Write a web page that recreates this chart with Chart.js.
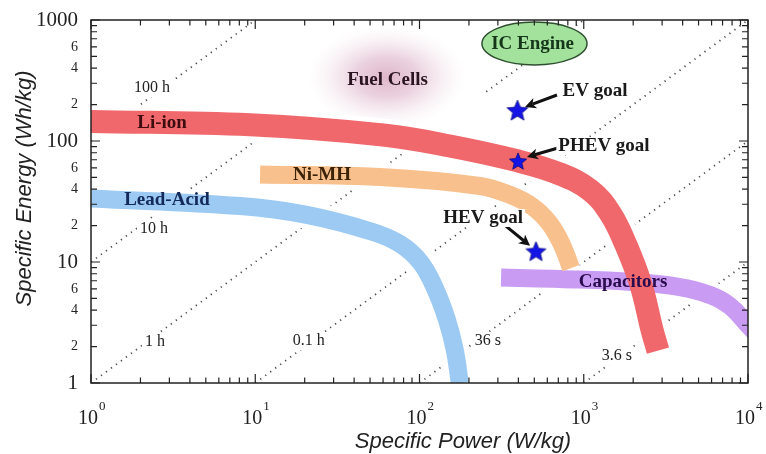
<!DOCTYPE html>
<html>
<head>
<meta charset="utf-8">
<script src="https://cdn.jsdelivr.net/npm/chart.js@4.4.1/dist/chart.umd.min.js"></script>
<style>
  html, body { margin: 0; padding: 0; background: #fff; }
  #wrap { width: 766px; height: 454px; position: relative; }
</style>
</head>
<body>
<div id="wrap"><canvas id="ragone"></canvas></div>
<script>
// Ragone plot, specific energy (Wh/kg) against specific power (W/kg), log-log

// centre lines of the technology bands, [power, energy]
const liIon = [[1, 145], [9.3, 136], [60, 112], [153, 91], [398, 68.4], [716, 53.4], [1090, 39.4],
  [1445, 25.4], [1808, 13.8], [2232, 6.45], [2606, 2.74], [2830, 1.85]];
const niMH = [[10.7, 52.9], [57.5, 50.4], [233, 42.5], [356, 35.8], [491, 28.5], [623, 20.6],
  [738, 13.8], [836, 8.9]];
const leadAcid = [[1, 33.5], [8.1, 29], [20.6, 24.5], [52, 17.7], [76, 14.1], [101, 10],
  [124, 6.1], [147, 3.32], [164, 1.87], [176, 1]];
const capacitors = [[356, 7.4], [716, 7.24], [1995, 6.83], [3855, 6.21], [5872, 5.34],
  [7763, 4.33], [10000, 3.02]];

const bandNames = ["Li-ion", "Ni-MH", "Lead-Acid", "Capacitors"];
const bandLabelPos = [[2.71, 141], [25.5, 52.4], [2.9, 32.5], [1734, 6.83]];

// constant discharge time lines (visible stretches)
const timeLines = [
  [[1, 100], [10, 1000]],
  [[1, 10], [12, 120]],
  [[1, 1], [110, 110]],
  [[255, 255], [1000, 1000]],
  [[10, 1], [10000, 1000]],
  [[100, 1], [10000, 100]],
  [[1000, 1], [10000, 10]],
];
const timeLabels = ["100 h", "10 h", "1 h", "0.1 h", "36 s", "3.6 s"];
const timeLabelPos = [[2.35, 274], [2.42, 18.7], [2.45, 2.18], [21.2, 2.22], [261, 2.22], [1593, 1.67]];

// goals
const goalNames = ["EV goal", "PHEV goal", "HEV goal"];
const goalPoints = [[395, 180], [398, 68.4], [512, 12.3]];
const goalLabelPos = [[1171, 259], [1328, 90.9], [244, 23.1]];
const arrowTails = [[687, 240], [697, 87.5], [336, 19.8]];
const arrowTips = [[439, 191], [451, 73.8], [471, 13.6]];

// regions
const fuelCellBox = [[21, 130], [190, 880]];
const fuelCellLabel = [63.9, 319];
const icEngineBox = [[240, 425], [1047, 962]];
const icEngineLabel = [488, 628];

// axes
const powerTicks = [1, 2, 3, 4, 5, 6, 7, 8, 9, 10, 20, 30, 40, 50, 60, 70, 80, 90,
  100, 200, 300, 400, 500, 600, 700, 800, 900, 1000, 2000, 3000, 4000, 5000, 6000, 7000, 8000, 9000, 10000];
const powerDecades = [1, 10, 100, 1000, 10000];
const powerExponents = ["0", "1", "2", "3", "4"];
const energyTicks = [1, 2, 3, 4, 5, 6, 7, 8, 9, 10, 20, 30, 40, 50, 60, 70, 80, 90,
  100, 200, 300, 400, 500, 600, 700, 800, 900, 1000];
const energyLabelValues = [1, 2, 4, 6, 10, 20, 40, 60, 100, 200, 400, 600, 1000];
const energyLabelText = ["1", "2", "4", "6", "10", "2", "4", "6", "100", "2", "4", "6", "1000"];

const SERIF = '"Liberation Serif", "Times New Roman", serif';
const SANS = '"Liberation Sans", Arial, sans-serif';

function pts(arr) {
  return arr.map(([x, y]) => ({ x: x, y: y }));
}

function makeStar(size) {
  const c = document.createElement("canvas");
  c.width = size + 2;
  c.height = size + 2;
  const g = c.getContext("2d");
  const cx = c.width / 2, cy = c.height / 2 + size * 0.05;
  const R = size / 2, r = R * 0.45;
  g.beginPath();
  for (let i = 0; i < 10; i++) {
    const a = -Math.PI / 2 + (i * Math.PI) / 5;
    const rad = i % 2 ? r : R;
    g.lineTo(cx + rad * Math.cos(a), cy + rad * Math.sin(a));
  }
  g.closePath();
  g.fillStyle = "#1414e6";
  g.fill();
  g.strokeStyle = "#0b0b80";
  g.lineWidth = 0.8;
  g.stroke();
  return c;
}

const bandStyles = [
  { data: liIon, color: "#f0686c", width: 23 },
  { data: niMH, color: "#f8c08c", width: 18 },
  { data: leadAcid, color: "#9ccaf2", width: 18 },
  { data: capacitors, color: "#c99bf2", width: 18, cap: "square" },
];

const datasets = [];
timeLines.forEach((seg) => {
  datasets.push({
    data: pts(seg),
    showLine: true,
    borderColor: "#4a4a4a",
    borderWidth: 1.8,
    borderDash: [1.2, 5],
    pointRadius: 0,
    order: 30,
  });
});
bandStyles.forEach((b) => {
  datasets.push({
    data: pts(b.data),
    showLine: true,
    borderColor: "#ffffff",
    borderWidth: b.width + 10,
    borderCapStyle: b.cap || "butt",
    tension: 0.4,
    pointRadius: 0,
    clip: 0,
    order: 20,
  });
});
bandStyles.forEach((b) => {
  datasets.push({
    data: pts(b.data),
    showLine: true,
    borderColor: b.color,
    borderWidth: b.width,
    borderCapStyle: b.cap || "butt",
    tension: 0.4,
    pointRadius: 0,
    clip: 0,
    order: 10,
  });
});
datasets.push({
  data: pts(goalPoints),
  showLine: false,
  pointStyle: [makeStar(22), makeStar(18), makeStar(21)],
  pointRadius: 10,
  order: 1,
});

function drawArrow(ctx, x1, y1, x2, y2) {
  const ang = Math.atan2(y2 - y1, x2 - x1);
  const hl = 11, hw = 5.5;
  const bx = x2 - hl * Math.cos(ang), by = y2 - hl * Math.sin(ang);
  ctx.beginPath();
  ctx.moveTo(x1, y1);
  ctx.lineTo(bx + 3 * Math.cos(ang), by + 3 * Math.sin(ang));
  ctx.stroke();
  ctx.beginPath();
  ctx.moveTo(x2, y2);
  ctx.lineTo(bx - hw * Math.sin(ang), by + hw * Math.cos(ang));
  ctx.lineTo(bx + 3 * Math.cos(ang), by + 3 * Math.sin(ang));
  ctx.lineTo(bx + hw * Math.sin(ang), by - hw * Math.cos(ang));
  ctx.closePath();
  ctx.fill();
}

function boxedText(ctx, text, x, y) {
  const w = ctx.measureText(text).width;
  ctx.fillStyle = "#ffffff";
  ctx.fillRect(x - w / 2 - 3, y - 9, w + 6, 18);
  ctx.fillStyle = "#222222";
  ctx.fillText(text, x, y);
}

const ragonePlugin = {
  id: "ragone",
  beforeDatasetsDraw(chart) {
    const { ctx, chartArea } = chart;
    const xs = chart.scales.x, ys = chart.scales.y;
    const x0 = xs.getPixelForValue(fuelCellBox[0][0]), x1 = xs.getPixelForValue(fuelCellBox[1][0]);
    const y0 = ys.getPixelForValue(fuelCellBox[0][1]), y1 = ys.getPixelForValue(fuelCellBox[1][1]);
    const cx = (x0 + x1) / 2, cy = (y0 + y1) / 2;
    const rx = Math.abs(x1 - x0) / 2, ry = Math.abs(y1 - y0) / 2;
    ctx.save();
    ctx.beginPath();
    ctx.rect(chartArea.left, chartArea.top, chartArea.right - chartArea.left, chartArea.bottom - chartArea.top);
    ctx.clip();
    ctx.translate(cx, cy);
    ctx.scale(rx / ry, 1);
    const g = ctx.createRadialGradient(0, 0, 0, 0, 0, ry);
    g.addColorStop(0, "rgba(188,108,148,0.5)");
    g.addColorStop(0.4, "rgba(198,128,166,0.36)");
    g.addColorStop(0.75, "rgba(215,165,190,0.14)");
    g.addColorStop(1, "rgba(230,200,215,0)");
    ctx.fillStyle = g;
    ctx.beginPath();
    ctx.arc(0, 0, ry, 0, Math.PI * 2);
    ctx.fill();
    ctx.restore();
  },
  afterDatasetsDraw(chart) {
    const { ctx } = chart;
    const xs = chart.scales.x, ys = chart.scales.y;
    const px = (v) => xs.getPixelForValue(v);
    const py = (v) => ys.getPixelForValue(v);
    ctx.save();

    // IC engine ellipse
    const ex0 = px(icEngineBox[0][0]), ex1 = px(icEngineBox[1][0]);
    const ey0 = py(icEngineBox[0][1]), ey1 = py(icEngineBox[1][1]);
    ctx.beginPath();
    ctx.ellipse((ex0 + ex1) / 2, (ey0 + ey1) / 2, Math.abs(ex1 - ex0) / 2, Math.abs(ey1 - ey0) / 2, 0, 0, Math.PI * 2);
    ctx.fillStyle = "#a2e29c";
    ctx.fill();
    ctx.strokeStyle = "#2f4f30";
    ctx.lineWidth = 1.5;
    ctx.stroke();

    // arrows to goals
    ctx.strokeStyle = "#111111";
    ctx.fillStyle = "#111111";
    ctx.lineWidth = 3;
    arrowTails.forEach((t, i) => {
      drawArrow(ctx, px(t[0]), py(t[1]), px(arrowTips[i][0]), py(arrowTips[i][1]));
    });

    ctx.textAlign = "center";
    ctx.textBaseline = "middle";

    // time labels
    ctx.font = "16px " + SERIF;
    timeLabels.forEach((t, i) => {
      boxedText(ctx, t, px(timeLabelPos[i][0]), py(timeLabelPos[i][1]));
    });

    // goal labels
    ctx.font = "bold 19px " + SERIF;
    goalNames.forEach((t, i) => {
      const x = px(goalLabelPos[i][0]), y = py(goalLabelPos[i][1]);
      const w = ctx.measureText(t).width;
      ctx.fillStyle = "#ffffff";
      ctx.fillRect(x - w / 2 - 2, y - 9, w + 4, 18);
      ctx.fillStyle = "#1a1a1a";
      ctx.fillText(t, x, y);
    });

    // band labels
    const bandTextColors = ["#3d0c0e", "#3b2208", "#142a5c", "#2a0b4d"];
    bandNames.forEach((t, i) => {
      ctx.fillStyle = bandTextColors[i];
      ctx.fillText(t, px(bandLabelPos[i][0]), py(bandLabelPos[i][1]));
    });
    ctx.fillStyle = "#2a1420";
    ctx.fillText("Fuel Cells", px(fuelCellLabel[0]), py(fuelCellLabel[1]));
    ctx.fillStyle = "#16361a";
    ctx.fillText("IC Engine", px(icEngineLabel[0]), py(icEngineLabel[1]));
    ctx.restore();
  },
  afterDraw(chart) {
    const { ctx, chartArea } = chart;
    const { left, right, top, bottom } = chartArea;
    const xs = chart.scales.x, ys = chart.scales.y;
    ctx.save();
    ctx.strokeStyle = "#222222";
    ctx.lineWidth = 1.5;
    ctx.strokeRect(left, top, right - left, bottom - top);

    ctx.lineWidth = 1.2;
    ctx.beginPath();
    powerTicks.forEach((v) => {
      const x = xs.getPixelForValue(v);
      const len = powerDecades.includes(v) ? 9 : 5.5;
      ctx.moveTo(x, bottom);
      ctx.lineTo(x, bottom - len);
      ctx.moveTo(x, top);
      ctx.lineTo(x, top + len);
    });
    energyTicks.forEach((v) => {
      const y = ys.getPixelForValue(v);
      const len = energyLabelValues.includes(v) && String(v).startsWith("1") ? 9 : 6;
      ctx.moveTo(left, y);
      ctx.lineTo(left + len, y);
      ctx.moveTo(right, y);
      ctx.lineTo(right - len, y);
    });
    ctx.stroke();

    // x tick labels with exponents
    ctx.fillStyle = "#222222";
    ctx.textBaseline = "alphabetic";
    powerDecades.forEach((v, i) => {
      const x = xs.getPixelForValue(v);
      ctx.font = "20px " + SERIF;
      ctx.textAlign = "right";
      ctx.fillText("10", x + 7, 424);
      ctx.font = "13px " + SERIF;
      ctx.textAlign = "left";
      ctx.fillText(powerExponents[i], x + 8, 410);
    });

    // axis titles
    ctx.font = "italic 22px " + SANS;
    ctx.textAlign = "center";
    ctx.fillText("Specific Power (W/kg)", 463, 448);
    ctx.save();
    ctx.translate(31, 188.5);
    ctx.rotate(-Math.PI / 2);
    ctx.fillText("Specific Energy (Wh/kg)", 0, 0);
    ctx.restore();
    ctx.restore();
  },
};

new Chart(document.getElementById("ragone"), {
  type: "scatter",
  data: { datasets: datasets },
  options: {
    responsive: true,
    maintainAspectRatio: false,
    animation: false,
    events: [],
    layout: { padding: { top: 20, right: 18, bottom: 0, left: 0 } },
    plugins: { legend: { display: false }, tooltip: { enabled: false } },
    scales: {
      x: {
        type: "logarithmic",
        min: 1,
        max: 10000,
        afterFit: (s) => { s.height = 71; },
        grid: { display: false },
        border: { display: false },
        ticks: { display: false },
      },
      y: {
        type: "logarithmic",
        min: 1,
        max: 1000,
        afterFit: (s) => { s.width = 91; },
        afterBuildTicks: (s) => {
          s.ticks = energyLabelValues.map((v) => ({ value: v }));
        },
        grid: { display: false },
        border: { display: false },
        ticks: {
          autoSkip: false,
          padding: 5,
          color: "#222222",
          callback: (v, i) => energyLabelText[i],
          font: (c) => ({
            family: SERIF,
            size: c.tick && [1, 10, 100, 1000].includes(c.tick.value) ? 21 : 14,
          }),
        },
      },
    },
  },
  plugins: [ragonePlugin],
});
</script>
</body>
</html>
